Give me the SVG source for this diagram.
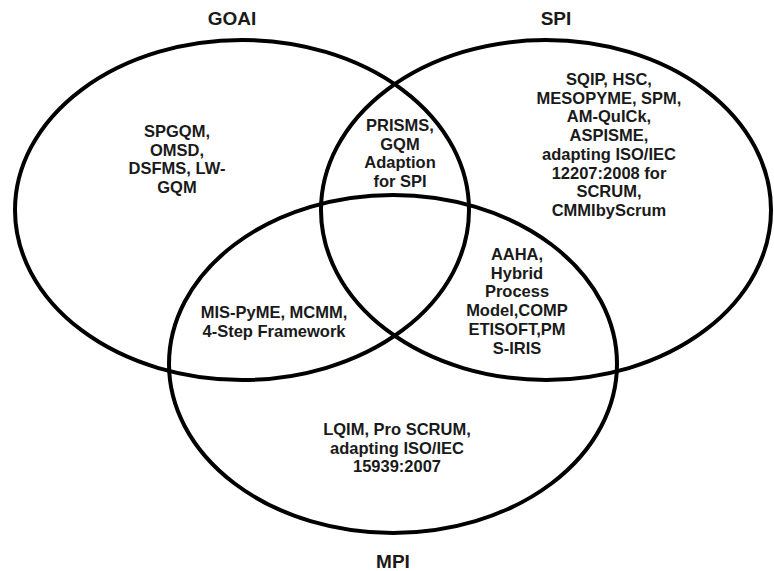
<svg xmlns="http://www.w3.org/2000/svg" width="774" height="571" viewBox="0 0 774 571">
<style>
.set{fill:none;stroke:#000;stroke-width:4}
.t{font-family:"Liberation Sans",Arial,sans-serif;font-weight:bold;font-size:16.5px;fill:#1a1a1a;text-anchor:middle}
.h{font-family:"Liberation Sans",Arial,sans-serif;font-weight:bold;font-size:19px;fill:#1a1a1a;text-anchor:middle}
</style>
<rect width="774" height="571" fill="#fff"/>
<g id="connectors"></g>
<g id="goai">
<ellipse class="set" cx="242" cy="210" rx="227" ry="170"/>
<text class="h" x="232" y="25">GOAI</text>
<text class="t" x="177" y="137">SPGQM,</text>
<text class="t" x="177" y="155.5">OMSD,</text>
<text class="t" x="177" y="174">DSFMS, LW-</text>
<text class="t" x="177" y="192.5">GQM</text>
</g>
<g id="spi">
<ellipse class="set" cx="546" cy="210" rx="225" ry="170"/>
<text class="h" x="556" y="25">SPI</text>
<text class="t" x="609" y="85">SQIP, HSC,</text>
<text class="t" x="609" y="103.7">MESOPYME, SPM,</text>
<text class="t" x="609" y="122.4">AM-QuICk,</text>
<text class="t" x="609" y="141.1">ASPISME,</text>
<text class="t" x="609" y="159.8">adapting ISO/IEC</text>
<text class="t" x="609" y="178.5">12207:2008 for</text>
<text class="t" x="609" y="197.2">SCRUM,</text>
<text class="t" x="609" y="215.9">CMMIbyScrum</text>
</g>
<g id="mpi">
<ellipse class="set" cx="393" cy="364" rx="224" ry="169"/>
<text class="h" x="393" y="568">MPI</text>
<text class="t" x="397" y="435">LQIM, Pro SCRUM,</text>
<text class="t" x="397" y="453.7">adapting ISO/IEC</text>
<text class="t" x="397" y="472.4">15939:2007</text>
</g>
<g id="goai-spi">
<text class="t" x="400" y="131">PRISMS,</text>
<text class="t" x="400" y="149.7">GQM</text>
<text class="t" x="400" y="168.4">Adaption</text>
<text class="t" x="400" y="187.1">for SPI</text>
</g>
<g id="spi-mpi">
<text class="t" x="517" y="260">AAHA,</text>
<text class="t" x="517" y="278.7">Hybrid</text>
<text class="t" x="517" y="297.4">Process</text>
<text class="t" x="517" y="316.1">Model,COMP</text>
<text class="t" x="517" y="334.8">ETISOFT,PM</text>
<text class="t" x="517" y="353.5">S-IRIS</text>
</g>
<g id="goai-mpi">
<text class="t" x="274" y="318">MIS-PyME, MCMM,</text>
<text class="t" x="274" y="336.5">4-Step Framework</text>
</g>
</svg>
